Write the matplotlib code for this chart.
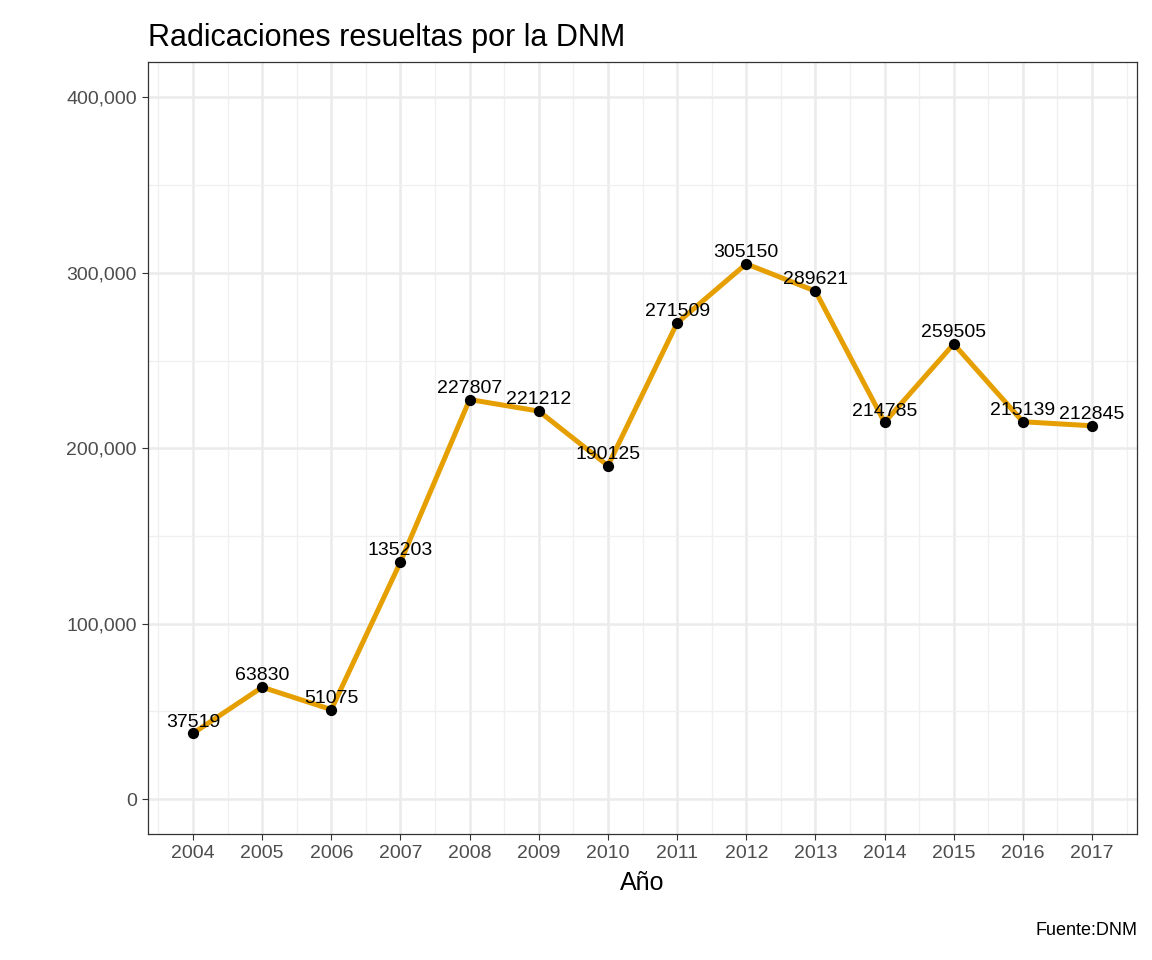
import matplotlib
matplotlib.use('Agg')
import matplotlib.pyplot as plt
from matplotlib.ticker import FuncFormatter, MultipleLocator

years = [2004, 2005, 2006, 2007, 2008, 2009, 2010, 2011, 2012, 2013, 2014, 2015, 2016, 2017]
values = [37519, 63830, 51075, 135203, 227807, 221212, 190125, 271509,
          305150, 289621, 214785, 259505, 215139, 212845]

plt.rcParams['font.family'] = ['Liberation Sans', 'DejaVu Sans']

fig = plt.figure(figsize=(11.52, 9.6), dpi=100)
ax = fig.add_axes([0.1285, 0.131, 0.8585, 0.804])

ax.plot(years, values, color='#E69F00', lw=3.6, zorder=3)
ax.scatter(years, values, color='black', s=50, zorder=4)
for x, y in zip(years, values):
    ax.annotate(str(y), (x, y), xytext=(0, 2), textcoords='offset points',
                ha='center', va='bottom', fontsize=14, zorder=5)

ax.set_xlim(2003.35, 2017.65)
ax.set_ylim(-20000, 420000)
ax.set_xticks(years)
ax.xaxis.set_minor_locator(MultipleLocator(0.5))
ax.yaxis.set_major_locator(MultipleLocator(100000))
ax.yaxis.set_minor_locator(MultipleLocator(50000))
ax.yaxis.set_major_formatter(FuncFormatter(lambda v, p: f'{int(v):,}'))
ax.grid(True, which='major', color='#EBEBEB', lw=1.8)
ax.grid(True, which='minor', color='#F0F0F0', lw=1.0)
ax.set_axisbelow(True)
for s in ax.spines.values():
    s.set_color('#333333')
    s.set_linewidth(0.9)
ax.tick_params(which='major', colors='#333333', labelcolor='#4D4D4D',
               labelsize=14, length=4.5)
ax.tick_params(which='minor', length=0)

ax.set_xlabel('Año', fontsize=18, labelpad=6)
ax.set_title('Radicaciones resueltas por la DNM', fontsize=22, loc='left', x=0, pad=12)
fig.text(0.987, 0.022, 'Fuente:DNM', ha='right', va='bottom', fontsize=13)

fig.savefig('out.png', dpi=100)
